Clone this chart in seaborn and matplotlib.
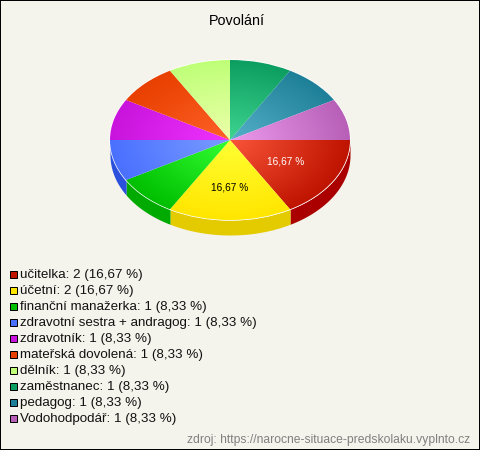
import numpy as np
import matplotlib
matplotlib.use("Agg")
import matplotlib.pyplot as plt
from matplotlib.patches import Rectangle
import seaborn as sns

title = "Povolání"
source = "zdroj: https://narocne-situace-predskolaku.vyplnto.cz"
names = ["učitelka", "účetní", "finanční manažerka", "zdravotní sestra + andragog",
         "zdravotník", "mateřská dovolená", "dělník", "zaměstnanec", "pedagog", "Vodohodpodář"]
counts = [2, 2, 1, 1, 1, 1, 1, 1, 1, 1]

# barva u stredu a na okraji kolace, bocni strana jen pro predni dily
inner = ["#f9553a", "#ffff33", "#33ff33", "#7a9cff", "#f033ff",
         "#ff6128", "#ecffaa", "#3fd490", "#55b0c8", "#ec9aec"]
rim = ["#bf1400", "#ffe600", "#00bf00", "#4a70ff", "#c814dc",
       "#e84000", "#bfff78", "#0c9e60", "#1e8098", "#b860b8"]
side = ["#aa0000", "#e4cb00", "#00aa00", "#2a50dc"]

W, H = 480, 450
BG = "#f5f4ec"
CX, CY, RX, RY, DEPTH = 230, 140, 120, 80, 15

sns.set_theme(style="white")
plt.rcParams["font.family"] = ["Liberation Sans", "DejaVu Sans"]

fig = plt.figure(figsize=(W / 100, H / 100), dpi=100, facecolor=BG)
ax = fig.add_axes([0, 0, 1, 1])

wedges, _ = ax.pie(counts, colors=rim, startangle=0, counterclock=False, radius=1)
ax.set_aspect("auto")

# bocni strana
d = DEPTH / RY
for w, c in zip(wedges, side):
    t = np.radians(np.linspace(w.theta1, w.theta2, 60))
    x, y = np.cos(t), np.sin(t)
    ax.fill_between(x, y - d, y, color=c, lw=0, zorder=0.5)

# radialni prechod v kazdem dilu
xx, yy = np.meshgrid(np.linspace(-1, 1, 300), np.linspace(-1, 1, 300))
rr = np.sqrt(xx ** 2 + yy ** 2)
for w, a, b in zip(wedges, inner, rim):
    cmap = sns.blend_palette([a, b], as_cmap=True)
    im = ax.imshow(rr, extent=[-1, 1, -1, 1], origin="lower", cmap=cmap, vmin=0, vmax=1,
                   aspect="auto", zorder=2)
    im.set_clip_path(w)
ax.set_xlim(-CX / RX, (W - CX) / RX)
ax.set_ylim((CY - H) / RY, CY / RY)

total = sum(counts)
label_r = [0.54, 0.59]
label_col = ["white", "black"]
for w, r, c, n in zip(wedges, label_r, label_col, counts):
    mid = np.radians((w.theta1 + w.theta2) / 2)
    ax.text(r * np.cos(mid), r * np.sin(mid), f"{n / total * 100:.2f} %".replace(".", ","),
            color=c, fontsize=7.3, ha="center", va="center", zorder=3)

fig.text(237 / W, 1 - 21 / H, title, fontsize=10.4, color="black", ha="center", va="center")

for i, (name, n, c) in enumerate(zip(names, counts, rim)):
    y = 274 + i * 16
    fig.add_artist(Rectangle((9.5 / W, 1 - (y + 4) / H), 7.5 / W, 7.5 / H, transform=fig.transFigure,
                             fc=c, ec="black", lw=0.72))
    pct = f"{n / total * 100:.2f}".replace(".", ",")
    fig.text(20 / W, 1 - (y + 1) / H, f"{name}: {n} ({pct} %)", fontsize=9.6, color="#111111",
             ha="left", va="center")

fig.text(470 / W, 1 - 440 / H, source, fontsize=8.75, color="#808080", ha="right", va="center")

fig.add_artist(Rectangle((0, 0), 1, 1, transform=fig.transFigure, fill=False, ec="black", lw=1.44))

fig.savefig("out.png", dpi=100, facecolor=BG)
